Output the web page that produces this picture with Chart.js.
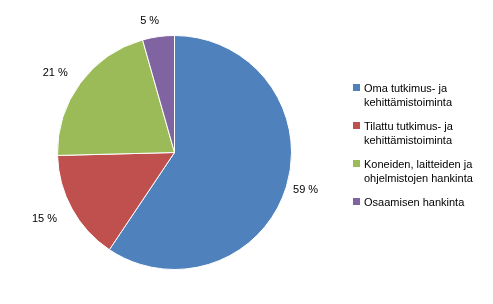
<!DOCTYPE html>
<html>
<head>
<meta charset="utf-8">
<script src="https://cdn.jsdelivr.net/npm/chart.js@4"></script>
<style>
  html, body { margin: 0; padding: 0; background: #fff; }
  #wrap { position: relative; width: 493px; height: 304px; }
  #legend { position: absolute; left: 353px; top: 81px; font: 11px "Liberation Sans", Arial, sans-serif; color: #000; }
  .row { position: relative; padding-left: 11px; line-height: 14px; }
  .sw { position: absolute; left: 0; top: 3px; width: 7px; height: 7px; }
</style>
</head>
<body>
<div id="wrap">
  <canvas id="c" width="493" height="304"></canvas>
  <div id="legend"></div>
</div>
<script>
const categories = [
  ["Oma tutkimus- ja", "kehittämistoiminta"],
  ["Tilattu tutkimus- ja", "kehittämistoiminta"],
  ["Koneiden, laitteiden ja", "ohjelmistojen hankinta"],
  ["Osaamisen hankinta"]
];
const values = [59.4, 15.2, 21.0, 4.4];
const valueLabels = ["59 %", "15 %", "21 %", "5 %"];
const colors = ["#4F81BD", "#C0504D", "#9BBB59", "#8064A2"];

// small label nudges (px) to mimic the original label placement
const labelNudge = [[0, -2], [-10, 0], [-9, 2], [-6, 4]];

const rowGaps = [0, 10, 10, 10];
const legend = document.getElementById("legend");
categories.forEach((lines, i) => {
  const row = document.createElement("div");
  row.className = "row";
  row.style.marginTop = rowGaps[i] + "px";
  row.innerHTML = `<span class="sw" style="background:${colors[i]}"></span>` + lines.join("<br>");
  legend.appendChild(row);
});

const outsideLabels = {
  id: "outsideLabels",
  afterDatasetsDraw(chart) {
    const ctx = chart.ctx;
    const meta = chart.getDatasetMeta(0);
    ctx.save();
    ctx.font = '11px "Liberation Sans", Arial, sans-serif';
    ctx.fillStyle = "#000";
    ctx.textAlign = "center";
    ctx.textBaseline = "middle";
    meta.data.forEach((arc, i) => {
      const mid = (arc.startAngle + arc.endAngle) / 2;
      const r = arc.outerRadius + 20;
      const x = arc.x + Math.cos(mid) * r + labelNudge[i][0];
      const y = arc.y + Math.sin(mid) * r + labelNudge[i][1];
      ctx.fillText(valueLabels[i], x, y);
    });
    ctx.restore();
  }
};

new Chart(document.getElementById("c"), {
  type: "pie",
  data: {
    labels: categories.map(l => l.join(" ")),
    datasets: [{
      data: values,
      backgroundColor: colors,
      borderColor: "#fff",
      borderWidth: 1
    }]
  },
  options: {
    responsive: false,
    animation: false,
    layout: { padding: { top: 35, bottom: 34, left: 57, right: 201 } },
    plugins: {
      legend: { display: false },
      tooltip: { enabled: false }
    }
  },
  plugins: [outsideLabels]
});
</script>
</body>
</html>
